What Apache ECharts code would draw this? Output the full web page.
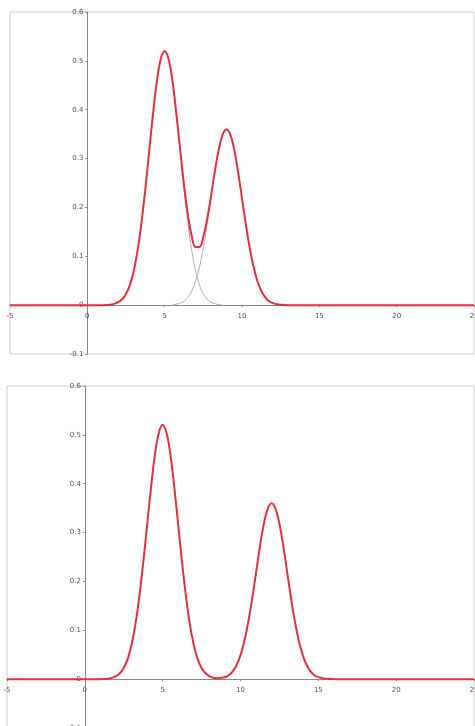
<!DOCTYPE html>
<html>
<head>
<meta charset="utf-8">
<script src="https://cdn.jsdelivr.net/npm/echarts@6/dist/echarts.min.js"></script>
<style>
  html, body { margin: 0; padding: 0; background: #fff; }
  #chart { width: 475px; height: 726px; }
</style>
</head>
<body>
<div id="chart"></div>
<script>
// sampled x positions and heights of the red curve, top panel
const topX = [-5, -2, 0, 1, 1.5, 1.75, 2, 2.25, 2.5, 2.75, 3, 3.25, 3.5, 3.75, 4, 4.25, 4.5, 4.75, 5, 5.25, 5.5, 5.75, 6, 6.25, 6.5, 6.75, 7, 7.25, 7.5, 7.75, 8, 8.25, 8.5, 8.75, 9, 9.25, 9.5, 9.75, 10, 10.25, 10.5, 10.75, 11, 11.25, 11.5, 11.75, 12, 12.25, 12.5, 13, 14, 17, 20, 25];
const topSum = [0, 0, 0, 0, 0.001, 0.003, 0.006, 0.012, 0.023, 0.041, 0.070, 0.112, 0.169, 0.238, 0.315, 0.392, 0.459, 0.504, 0.520, 0.504, 0.460, 0.393, 0.319, 0.246, 0.185, 0.141, 0.119, 0.119, 0.140, 0.177, 0.224, 0.275, 0.319, 0.349, 0.360, 0.349, 0.318, 0.272, 0.218, 0.165, 0.117, 0.078, 0.049, 0.029, 0.016, 0.008, 0.004, 0.002, 0.001, 0, 0, 0, 0, 0];

// the two single peaks (grey), only around the dip
const compAX = [6, 6.25, 6.5, 6.75, 7, 7.25, 7.5, 7.75, 8, 8.25, 8.5, 8.75];
const compA = [0.315, 0.238, 0.169, 0.112, 0.070, 0.041, 0.023, 0.012, 0.006, 0.003, 0.001, 0];
const compBX = [5.5, 5.75, 6, 6.25, 6.5, 6.75, 7, 7.25, 7.5, 7.75, 8];
const compB = [0, 0.002, 0.004, 0.008, 0.016, 0.029, 0.049, 0.078, 0.117, 0.165, 0.218];

// red curve, bottom panel
const botX = [-5, -2, 0, 1, 1.5, 1.75, 2, 2.25, 2.5, 2.75, 3, 3.25, 3.5, 3.75, 4, 4.25, 4.5, 4.75, 5, 5.25, 5.5, 5.75, 6, 6.25, 6.5, 6.75, 7, 7.25, 7.5, 7.75, 8, 8.25, 8.5, 8.75, 9, 9.25, 9.5, 9.75, 10, 10.25, 10.5, 10.75, 11, 11.25, 11.5, 11.75, 12, 12.25, 12.5, 12.75, 13, 13.25, 13.5, 13.75, 14, 14.25, 14.5, 14.75, 15, 15.25, 15.5, 16, 17, 20, 25];
const botSum = [0, 0, 0, 0, 0.001, 0.003, 0.006, 0.012, 0.023, 0.041, 0.070, 0.112, 0.169, 0.238, 0.315, 0.392, 0.459, 0.504, 0.520, 0.504, 0.459, 0.392, 0.315, 0.238, 0.169, 0.112, 0.070, 0.041, 0.023, 0.012, 0.006, 0.003, 0.002, 0.003, 0.004, 0.008, 0.016, 0.029, 0.049, 0.078, 0.117, 0.165, 0.218, 0.272, 0.318, 0.349, 0.360, 0.349, 0.318, 0.272, 0.218, 0.165, 0.117, 0.078, 0.049, 0.029, 0.016, 0.008, 0.004, 0.002, 0.001, 0, 0, 0, 0];

const xMin = -5, xMax = 25, xStep = 5;
const yMin = -0.1, yMax = 0.6, yStep = 0.1;

const pairs = (xs, ys) => xs.map((x, i) => [x, ys[i]]);

const labelStyle = { fontSize: 7, color: '#555', fontFamily: 'DejaVu Sans' };

// panels: left edge, top edge, width, height
const panels = [
    { left: 10, top: 12, width: 464, height: 342 },
    { left: 7, top: 386, width: 467, height: 342 }
];

function makeX(i) {
    const p = panels[i];
    // shift the axis up to y = 0
    const off = -p.height * (0 - yMin) / (yMax - yMin);
    return {
        type: 'value', gridIndex: i, position: 'bottom', offset: off,
        min: xMin, max: xMax, interval: xStep,
        axisLine: { onZero: false, lineStyle: { color: '#888', width: 1 } },
        axisTick: { show: true, length: 2, lineStyle: { color: '#888' } },
        axisLabel: Object.assign({ margin: 8, showMinLabel: true, showMaxLabel: true }, labelStyle),
        splitLine: { show: false }
    };
}
function makeY(i) {
    const p = panels[i];
    // shift the axis right to x = 0
    const off = -p.width * (0 - xMin) / (xMax - xMin);
    return {
        type: 'value', gridIndex: i, position: 'left', offset: off,
        min: yMin, max: yMax, interval: yStep,
        axisLine: { show: true, onZero: false, lineStyle: { color: '#888', width: 1 } },
        axisTick: { show: true, length: 2, lineStyle: { color: '#888' } },
        axisLabel: Object.assign({
            margin: 4, showMinLabel: true, showMaxLabel: true,
            formatter: v => (Math.abs(v) < 1e-9 ? '0' : v.toFixed(1))
        }, labelStyle),
        splitLine: { show: false }
    };
}

const red = '#e3313b';
const grey = '#9a9a9a';

const chart = echarts.init(document.getElementById('chart'));
chart.setOption({
    animation: false,
    backgroundColor: '#fff',
    grid: panels.map(p => ({
        left: p.left, top: p.top, width: p.width, height: p.height,
        show: true, borderColor: '#cfcfcf', borderWidth: 1,
        containLabel: false, outerBoundsMode: 'none'
    })),
    xAxis: [makeX(0), makeX(1)],
    yAxis: [makeY(0), makeY(1)],
    series: [
        {
            type: 'line', xAxisIndex: 0, yAxisIndex: 0, z: 2,
            data: pairs(compAX, compA),
            smooth: 0.4, showSymbol: false,
            lineStyle: { color: grey, width: 0.8 }
        },
        {
            type: 'line', xAxisIndex: 0, yAxisIndex: 0, z: 2,
            data: pairs(compBX, compB),
            smooth: 0.4, showSymbol: false,
            lineStyle: { color: grey, width: 0.8 }
        },
        {
            type: 'line', xAxisIndex: 0, yAxisIndex: 0, z: 3,
            data: pairs(topX, topSum),
            smooth: 0.4, showSymbol: false,
            lineStyle: { color: red, width: 2 }
        },
        {
            type: 'line', xAxisIndex: 1, yAxisIndex: 1, z: 3,
            data: pairs(botX, botSum),
            smooth: 0.4, showSymbol: false,
            lineStyle: { color: red, width: 2 }
        }
    ]
});
</script>
</body>
</html>
